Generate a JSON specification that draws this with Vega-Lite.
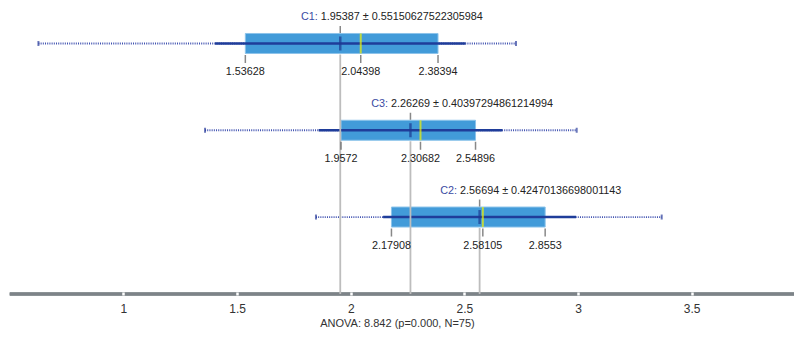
{
  "$schema": "https://vega.github.io/schema/vega-lite/v6.json",
  "width": 794,
  "height": 294,
  "padding": {"left": 0, "right": 0, "top": 0, "bottom": 45},
  "autosize": {"type": "none"},
  "background": "white",
  "config": {
    "view": {"stroke": null},
    "font": "Liberation Sans",
    "axisX": {
      "domain": false,
      "grid": false,
      "tickColor": "white",
      "tickSize": 3,
      "tickWidth": 2.5,
      "offset": -2,
      "labelFontSize": 12,
      "labelColor": "#333333",
      "labelPadding": 8,
      "titleFontSize": 11,
      "titleFontWeight": "normal",
      "titleColor": "#333333",
      "titlePadding": 3,
      "zindex": 2
    }
  },
  "data": {
    "values": [
      {"group": "C1", "tag": "C1:", "min": 0.626, "max": 2.727, "lo": 1.40236, "hi": 2.50538, "q1": 1.53628, "median": 2.04398, "q3": 2.38394, "mean": 1.95387, "label": "1.95387 ± 0.55150627522305984"},
      {"group": "C3", "tag": "C3:", "min": 1.359, "max": 2.994, "lo": 1.85872, "hi": 2.66666, "q1": 1.9572, "median": 2.30682, "q3": 2.54896, "mean": 2.26269, "label": "2.26269 ± 0.40397294861214994"},
      {"group": "C2", "tag": "C2:", "min": 1.847, "max": 3.368, "lo": 2.14224, "hi": 2.99164, "q1": 2.17908, "median": 2.58105, "q3": 2.8553, "mean": 2.56694, "label": "2.56694 ± 0.42470136698001143"}
    ]
  },
  "encoding": {
    "y": {
      "field": "group",
      "type": "nominal",
      "scale": {"type": "point", "domain": ["C1", "C3", "C2"], "padding": 0.694, "align": 0.361},
      "axis": null
    }
  },
  "layer": [
    {
      "mark": {"type": "rule", "color": "#7d8388", "strokeWidth": 3},
      "encoding": {
        "x": {
          "datum": 0.5,
          "type": "quantitative",
          "scale": {"domain": [0.457, 3.95], "nice": false, "zero": false},
          "axis": {"values": [1, 1.5, 2, 2.5, 3, 3.5], "format": "~g", "zindex": 2, "title": "ANOVA: 8.842 (p=0.000, N=75)"}
        },
        "x2": {"datum": 3.95},
        "y": {"value": "height"}
      }
    },
    {
      "mark": {"type": "rule", "color": "#3f51b0", "strokeWidth": 1.8, "strokeDash": [1, 1.2]},
      "encoding": {
        "x": {"field": "min", "type": "quantitative", "title": "ANOVA: 8.842 (p=0.000, N=75)"},
        "x2": {"field": "max"}
      }
    },
    {
      "transform": [{"fold": ["min", "max"], "as": ["k", "v"]}],
      "mark": {"type": "tick", "color": "#2c3f9c", "size": 5, "thickness": 2},
      "encoding": {
        "x": {"field": "v", "type": "quantitative", "title": "ANOVA: 8.842 (p=0.000, N=75)"}
      }
    },
    {
      "mark": {"type": "bar", "size": 20, "color": "#429bd9", "stroke": "#8cc3ea", "strokeWidth": 1},
      "encoding": {
        "x": {"field": "q1", "type": "quantitative", "title": "ANOVA: 8.842 (p=0.000, N=75)"},
        "x2": {"field": "q3"}
      }
    },
    {
      "mark": {"type": "rule", "color": "#1f3d9a", "strokeWidth": 2.5},
      "encoding": {
        "x": {"field": "lo", "type": "quantitative", "title": "ANOVA: 8.842 (p=0.000, N=75)"},
        "x2": {"field": "hi"}
      }
    },
    {
      "mark": {"type": "tick", "color": "#f2f200", "size": 20, "thickness": 2},
      "encoding": {
        "x": {"field": "median", "type": "quantitative", "title": "ANOVA: 8.842 (p=0.000, N=75)"}
      }
    },
    {
      "mark": {"type": "tick", "color": "#1c3990", "size": 14, "thickness": 2.5},
      "encoding": {
        "x": {"field": "mean", "type": "quantitative", "title": "ANOVA: 8.842 (p=0.000, N=75)"}
      }
    },
    {
      "mark": {"type": "rule", "color": "#bdbdbd", "strokeWidth": 1.8, "yOffset": 11},
      "encoding": {
        "x": {"field": "mean", "type": "quantitative", "title": "ANOVA: 8.842 (p=0.000, N=75)"},
        "y2": {"value": "height"}
      }
    },
    {
      "transform": [{"fold": ["q1", "median", "q3"], "as": ["k", "v"]}],
      "mark": {"type": "tick", "color": "#555555", "size": 8, "thickness": 1.5, "yOffset": 15.5},
      "encoding": {
        "x": {"field": "v", "type": "quantitative", "title": "ANOVA: 8.842 (p=0.000, N=75)"}
      }
    },
    {
      "mark": {"type": "tick", "color": "#555555", "size": 7, "thickness": 1.5, "yOffset": -14},
      "encoding": {
        "x": {"field": "mean", "type": "quantitative", "title": "ANOVA: 8.842 (p=0.000, N=75)"}
      }
    },
    {
      "transform": [{"fold": ["q1", "median", "q3"], "as": ["k", "v"]}],
      "mark": {"type": "text", "color": "#222222", "fontSize": 10.8, "baseline": "middle", "align": "center", "yOffset": 28.5},
      "encoding": {
        "x": {"field": "v", "type": "quantitative", "title": "ANOVA: 8.842 (p=0.000, N=75)"},
        "text": {"field": "v", "type": "nominal"}
      }
    },
    {
      "mark": {"type": "text", "color": "#222222", "fontSize": 10.8, "baseline": "middle", "align": "left", "dx": -19.5, "yOffset": -26.5},
      "encoding": {
        "x": {"field": "mean", "type": "quantitative", "title": "ANOVA: 8.842 (p=0.000, N=75)"},
        "text": {"field": "label", "type": "nominal"}
      }
    },
    {
      "mark": {"type": "text", "color": "#3b4ba3", "fontSize": 10.8, "baseline": "middle", "align": "right", "dx": -22.5, "yOffset": -26.5},
      "encoding": {
        "x": {"field": "mean", "type": "quantitative", "title": "ANOVA: 8.842 (p=0.000, N=75)"},
        "text": {"field": "tag", "type": "nominal"}
      }
    }
  ]
}
